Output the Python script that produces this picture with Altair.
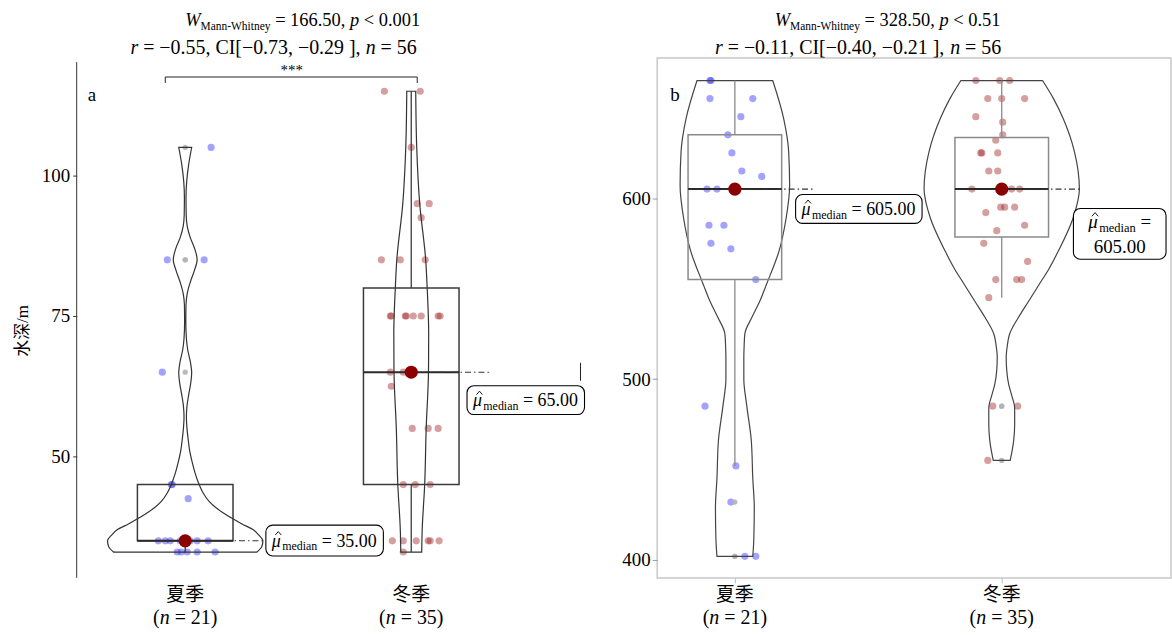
import altair as alt
import numpy as np
import pandas as pd

# ---------------- data ----------------
seasons = ["夏季", "冬季"]
season_n = [21, 35]

# panel a : 水深/m
depth_summer = [105, 85, 85, 65, 45, 45, 42.5, 35, 35, 35, 35, 35, 35, 35, 35, 35,
                33, 33, 33, 33, 33]
depth_summer_jitter = [26, -18, 19, -23, -14, -13, 3, -27, -20, -15, -5, -1, 2, 5, 12, 23,
                       -8, -4, 2, 12, 30]
depth_winter = [115, 115, 105, 95, 95, 92.5, 85, 85, 85, 75, 75, 75, 75, 75, 75, 75, 75,
                65, 65, 65, 65, 62.5, 55, 55, 55, 45, 45, 45, 35, 35, 35, 35, 35, 35, 33]
depth_winter_jitter = [-27, 9, 0, 6, 18, 10, -30, -11, 14, -21, -20, -6, 2, 10, 27, 29, -5,
                       -21, -8, -1, 2, -20, 1, 17, 27, -8, 4, 19, -19, -8, 5, 17, 19, 28, -8]

# panel b
b_summer = [665, 665, 655, 655, 645, 635, 625, 615, 612, 605, 605, 585, 585, 575, 572, 555,
            485, 452, 432, 402, 402]
b_summer_jitter = [-25, -24, -25, 18, 6, -7, -3, 7, 27, -28, -18, -26, -11, -24, -4, 21,
                   -30, 1, -4, 10, 21]
b_winter = [665, 665, 665, 655, 655, 655, 645, 642, 635, 632, 625, 625, 625, 615, 615,
            605, 605, 605, 605, 605, 595, 595, 595, 592, 585, 582, 575, 565, 555, 555, 555,
            545, 485, 485, 455]
b_winter_jitter = [-26, -2, 8, -14, 0, 23, -26, 1, 1, -6, -21, -20, -4, -13, -4,
                   -30, 10, 18, -2, 3, -1, 3, 13, -16, 23, -5, -18, 26, -6, 15, 20,
                   -13, -9, 16, -14]

# violin outlines (value, half width)
vio_a_summer_y = [33, 34, 35, 36, 37, 38, 39, 40, 41, 42, 43.5, 45, 47, 49, 51, 53, 55, 57,
                  59, 61, 63, 65, 67, 69, 71, 74, 77, 79, 81, 83, 85, 87, 89, 91, 93, 96,
                  99, 102, 105]
vio_a_summer_w = [72, 77, 78, 74, 68, 57, 47, 38, 30, 24, 18, 14, 10, 7, 4.5, 3, 1.8, 1.2,
                  1.8, 3.5, 5.5, 6.5, 5, 2.5, 1.2, 0.6, 0.8, 2, 5, 9, 12, 9.5, 5, 2, 1, 0.8,
                  1.5, 3.5, 6.5]
vio_a_winter_y = [33, 37, 45, 55, 65, 72, 80, 85, 95, 105, 115]
vio_a_winter_w = [10.5, 11, 13.5, 15, 17.3, 17.5, 16, 14.5, 8.5, 5.5, 4.5]
vio_b_summer_y = [402, 411, 429, 445, 466, 485, 500, 512, 518, 525, 534, 543, 552, 571,
                  589, 607, 626, 644, 665]
vio_b_summer_w = [18, 19, 19.5, 18, 16.5, 12, 9, 9, 9.3, 10, 17, 25, 31.5, 44.5, 51.5, 55,
                  54, 49, 38]
vio_b_winter_y = [455, 466, 475, 484, 491, 497, 505, 512, 518, 525, 534, 543, 552.4, 561,
                  570.6, 589, 605, 625.7, 644, 655, 665]
vio_b_winter_w = [8.5, 12, 13, 13, 10, 7, 5, 4.5, 5.5, 8, 16.7, 27, 37.7, 47.5, 56.7, 71.7,
                  78, 73, 61.7, 52, 41]

stats_a = {"W": "166.50", "p": "< 0.001", "r": "−0.55", "ci": ("−0.73", "−0.29"), "n": "56"}
stats_b = {"W": "328.50", "p": "< 0.51", "r": "−0.11", "ci": ("−0.40", "−0.21"), "n": "56"}

# ---------------- helpers ----------------
FONT = "Liberation Serif"
CJK = "Liberation Serif, Noto Sans CJK SC"
BLUE = "#3333ff"
BROWN = "#a52a2a"
MUHAT = "MUHAT"

REG = {' ': 250, '(': 333, ')': 333, '=': 564, '<': 564, '−': 564, '.': 250, ',': 250,
       '[': 333, ']': 333, 'C': 667, 'I': 333, 'M': 889, 'W': 944, 'a': 444, 'n': 500,
       '-': 333, 'h': 500, 'i': 278, 't': 278, 'e': 444, 'y': 500, 'd': 500, 'm': 778}
for _d in "0123456789":
    REG[_d] = 500
IT = {'W': 833, 'p': 500, 'r': 389, 'n': 500, 'μ': 576}


def tw(s, size, italic=False):
    if s == MUHAT:
        return 0.576 * size
    t = IT if italic else REG
    return sum(t.get(c, 500) for c in s) * size / 1000.0


ONE = pd.DataFrame({"k": [0]})


def txt(x, y, t, size, italic=False, align="left", baseline="alphabetic"):
    return alt.Chart(ONE).mark_text(align=align, baseline=baseline, font=FONT,
                                    fontSize=size,
                                    fontStyle="italic" if italic else "normal",
                                    color="black").encode(
        x=alt.value(x), y=alt.value(y), text=alt.value(t))


def rule_px(x1, y1, x2, y2, color="#333", w=1.0):
    return alt.Chart(ONE).mark_rule(color=color, strokeWidth=w).encode(
        x=alt.value(x1), y=alt.value(y1), x2=alt.value(x2), y2=alt.value(y2))


def text_run(x0, y, runs, center=False):
    total = sum(tw(t, s, it) for t, s, it, dy in runs)
    x = x0 - total / 2 if center else x0
    out = []
    for t, s, it, dy in runs:
        if t == MUHAT:
            out.append(txt(x, y + dy, "μ", s, True))
            k = s / 18.0
            out.append(rule_px(x + 3.5 * k, y + dy - 11.5 * k, x + 6.5 * k, y + dy - 15 * k,
                               "black", 0.9))
            out.append(rule_px(x + 6.5 * k, y + dy - 15 * k, x + 9.5 * k, y + dy - 11.5 * k,
                               "black", 0.9))
        else:
            lead = len(t) - len(t.lstrip(" "))
            out.append(txt(x + lead * 0.25 * s, y + dy, t.strip(" "), s, it))
        x += tw(t, s, it)
    return out


def label_box(x0, x1, y0, y1):
    return alt.Chart(ONE).mark_rect(fill="white", stroke="black", strokeWidth=1.1,
                                    cornerRadius=7).encode(
        x=alt.value(x0), x2=alt.value(x1), y=alt.value(y0), y2=alt.value(y1))


H = 522


def make_panel(p):
    sp = p["spacing"]
    xs = alt.Scale(domain=p["xdom"], nice=False, zero=False)
    ys = alt.Scale(domain=p["ydom"], nice=False, zero=False)

    def X(f):
        return alt.X(f, type="quantitative", scale=xs, axis=p["xaxis"], title=None)

    def Y(f):
        return alt.Y(f, type="quantitative", scale=ys, axis=p["yaxis"], title=None)

    rows, vrows, brows, wrows, orows = [], [], [], [], []
    for i, cat in enumerate(seasons):
        vals = np.array(p["vals"][i], dtype=float)
        for v, j in zip(p["vals"][i], p["jit"][i]):
            rows.append({"cat": cat, "value": v, "x": i + j / sp})
        for v, w in zip(p["vy"][i], p["vw"][i]):
            vrows.append({"cat": cat, "value": v, "left": i - w / sp, "right": i + w / sp})
        q1, med, q3 = np.percentile(vals, [25, 50, 75])
        iqr = q3 - q1
        inside = vals[(vals >= q1 - 1.5 * iqr) & (vals <= q3 + 1.5 * iqr)]
        wlo, whi = inside.min(), inside.max()
        hw = p["boxhalf"] / sp
        brows.append({"cat": cat, "idx": i, "q1": q1, "q3": q3, "med": med,
                      "lo": i - hw, "hi": i + hw, "lab": f"{med:.2f}"})
        wrows.append({"idx": i, "y": q3, "y2": whi})
        wrows.append({"idx": i, "y": q1, "y2": wlo})
        for v in vals[(vals < q1 - 1.5 * iqr) | (vals > q3 + 1.5 * iqr)]:
            orows.append({"idx": i, "value": v})
    pts = pd.DataFrame(rows)
    vio = pd.DataFrame(vrows)
    box = pd.DataFrame(brows)
    wh = pd.DataFrame(wrows)
    out = pd.DataFrame(orows)
    cats = pd.DataFrame({"cat": seasons, "idx": [0, 1],
                         "nstr": [f"= {n})" for n in season_n]})

    L = []
    L.append(alt.Chart(pts).mark_circle(size=52, opacity=0.45).encode(
        x=X("x"), y=Y("value"),
        color=alt.Color("cat:N", scale=alt.Scale(domain=seasons, range=[BLUE, BROWN]),
                        legend=None)))
    if len(out):
        L.append(alt.Chart(out).mark_circle(size=28, color="#b3b3b3", opacity=0.9).encode(
            x=X("idx"), y=Y("value")))
    L.append(alt.Chart(vio).mark_area(orient="horizontal", interpolate="monotone",
                                      fill="transparent", stroke=p["vcol"],
                                      strokeWidth=1.2).encode(
        y=Y("value"), x=X("left"), x2=alt.X2("right"), detail="cat:N"))
    L.append(alt.Chart(wh).mark_rule(color=p["bcol"], strokeWidth=1.3).encode(
        x=X("idx"), y=Y("y"), y2=alt.Y2("y2")))
    L.append(alt.Chart(box).mark_rect(fill="transparent", stroke=p["bcol"],
                                      strokeWidth=1.5).encode(
        x=X("lo"), x2=alt.X2("hi"), y=Y("q1"), y2=alt.Y2("q3")))
    L.append(alt.Chart(box).mark_rule(color="#2a2a2a", strokeWidth=2).encode(
        x=X("lo"), x2=alt.X2("hi"), y=Y("med")))
    for i in range(2):
        L.append(alt.Chart(box.iloc[[i]]).mark_rule(color="#333", strokeWidth=1.1,
                                                    strokeDash=[6, 3, 1.5, 3]).encode(
            x=X("idx"), x2=alt.value(p["dash_end"][i]), y=Y("med")))
    L.append(alt.Chart(box).mark_circle(size=175, color="#8b0000", opacity=1).encode(
        x=X("idx"), y=Y("med")))

    # median labels
    for i in range(2):
        x0, x1, y0, y1 = p["lab_box"][i]
        L.append(label_box(x0, x1, y0, y1))
        lab = brows[i]["lab"]
        if p["lab_two_lines"][i]:
            cx = (x0 + x1) / 2
            L += text_run(cx, y0 + 20, [(MUHAT, 19, True, 0), ("median", 12.5, False, 4),
                                        (" =", 19, False, 0)], center=True)
            L += text_run(cx, y0 + 45, [(lab, 19, False, 0)], center=True)
        else:
            L += text_run(x0 + 6, (y0 + y1) / 2 + 6,
                          [(MUHAT, 18, True, 0), ("median", 12, False, 4),
                           (f" = {lab}", 18, False, 0)])

    # x labels
    L.append(alt.Chart(cats).mark_text(font=CJK, fontSize=19, baseline="middle",
                                       color="black").encode(
        x=X("idx"), y=alt.value(539), text="cat:N"))
    L.append(alt.Chart(cats).mark_text(font=FONT, fontSize=20, baseline="middle",
                                       align="left", dx=-32.3, color="black").encode(
        x=X("idx"), y=alt.value(562), text=alt.value("(")))
    L.append(alt.Chart(cats).mark_text(font=FONT, fontSize=20, baseline="middle",
                                       align="left", dx=-25.6, fontStyle="italic",
                                       color="black").encode(
        x=X("idx"), y=alt.value(562), text=alt.value("n")))
    L.append(alt.Chart(cats).mark_text(font=FONT, fontSize=20, baseline="middle",
                                       align="left", dx=-10.6, color="black").encode(
        x=X("idx"), y=alt.value(562), text="nstr:N"))

    # statistics subtitle
    s = p["stats"]
    L += text_run(p["t1x"], -32, [("W", 18.5, True, 0), ("Mann-Whitney", 11.5, False, 4),
                                  (f" = {s['W']}, ", 18.5, False, 0), ("p", 18.5, True, 0),
                                  (f" {s['p']}", 18.5, False, 0)])
    L += text_run(p["t2x"], -4, [("r", 20, True, 0),
                                 (f" = {s['r']}, CI[{s['ci'][0]}, {s['ci'][1]} ], ", 20, False, 0),
                                 ("n", 20, True, 0), (f" = {s['n']}", 20, False, 0)])
    # panel letter
    L.append(alt.Chart(ONE).mark_text(font=FONT, fontSize=19, align="left",
                                      baseline="middle", color="black").encode(
        x=alt.value(p["letter_x"]), y=alt.value(37), text=alt.value(p["letter"])))
    L += p["extra"]
    return alt.layer(*L).properties(width=p["width"], height=H)


# ---------------- panel a ----------------
SP_A = 227
W_A = 510
axis_a_y = alt.Axis(values=[50, 75, 100], domain=False, ticks=True, tickColor="#333",
                    tickSize=4, tickWidth=1, labelFont=FONT, labelFontSize=19,
                    labelColor="black", labelPadding=3, grid=False)
extra_a = [
    alt.Chart(ONE).mark_rect(fill="white").encode(
        x=alt.value(-76), x2=alt.value(-75), y=alt.value(-56), y2=alt.value(-55)),
    rule_px(0, 4, 0, H, "#333", 1),
    rule_px(89, 19, 342, 19, "#222", 1),
    rule_px(89, 19, 89, 25, "#222", 1),
    rule_px(342, 19, 342, 25, "#222", 1),
    alt.Chart(ONE).mark_text(font=FONT, fontSize=15, baseline="middle",
                             color="black").encode(
        x=alt.value(216), y=alt.value(12), text=alt.value("***")),
    rule_px(506, 306, 506, 324, "#222", 1),
    alt.Chart(ONE).mark_text(font=CJK, fontSize=17, angle=270, baseline="middle",
                             color="black").encode(
        x=alt.value(-54), y=alt.value(274), text=alt.value("水深/m")),
]
panel_a = make_panel({
    "spacing": SP_A, "width": W_A,
    "xdom": [-109 / SP_A, (W_A - 109) / SP_A], "ydom": [28.4, 120.9],
    "xaxis": None, "yaxis": axis_a_y,
    "vals": [depth_summer, depth_winter], "jit": [depth_summer_jitter, depth_winter_jitter],
    "vy": [vio_a_summer_y, vio_a_winter_y], "vw": [vio_a_summer_w, vio_a_winter_w],
    "boxhalf": 48, "vcol": "#333", "bcol": "#3a3a3a",
    "dash_end": [190, 416],
    "lab_box": [(190, 308, 469, 500), (392, 510, 329, 358)],
    "lab_two_lines": [False, False],
    "stats": stats_a, "t1x": 109, "t2x": 54,
    "letter": "a", "letter_x": 11, "extra": extra_a,
})

# ---------------- panel b ----------------
SP_B = 268
W_B = 516
axis_b_y = alt.Axis(values=[400, 500, 600], domain=False, ticks=True, tickColor="#999",
                    tickSize=5, tickWidth=1, labelFont=FONT, labelFontSize=19,
                    labelColor="black", labelPadding=2, grid=False)
axis_b_x = alt.Axis(values=[0, 1], domain=False, ticks=True, labels=False,
                    tickColor="#bbb", tickSize=5, grid=False)
panel_b = make_panel({
    "spacing": SP_B, "width": W_B,
    "xdom": [-78 / SP_B, (W_B - 78) / SP_B], "ydom": [390.1, 677.4],
    "xaxis": axis_b_x, "yaxis": axis_b_y,
    "vals": [b_summer, b_winter], "jit": [b_summer_jitter, b_winter_jitter],
    "vy": [vio_b_summer_y, vio_b_winter_y], "vw": [vio_b_summer_w, vio_b_winter_w],
    "boxhalf": 47, "vcol": "#444", "bcol": "#8a8a8a",
    "dash_end": [156, 425],
    "lab_box": [(139, 266, 137, 166), (418, 511, 151, 202)],
    "lab_two_lines": [False, True],
    "stats": stats_b, "t1x": 118, "t2x": 58,
    "letter": "b", "letter_x": 13, "extra": [],
}).properties(view=alt.ViewBackground(stroke="#c8c8c8", strokeWidth=1.5))

chart = alt.hconcat(panel_a, panel_b, spacing=73, bounds="flush").properties(
    padding={"left": 0, "top": 0, "right": 0, "bottom": 0}
).configure_view(stroke="transparent")

chart.save("out.html", embed_options={"renderer": "svg", "actions": False})
